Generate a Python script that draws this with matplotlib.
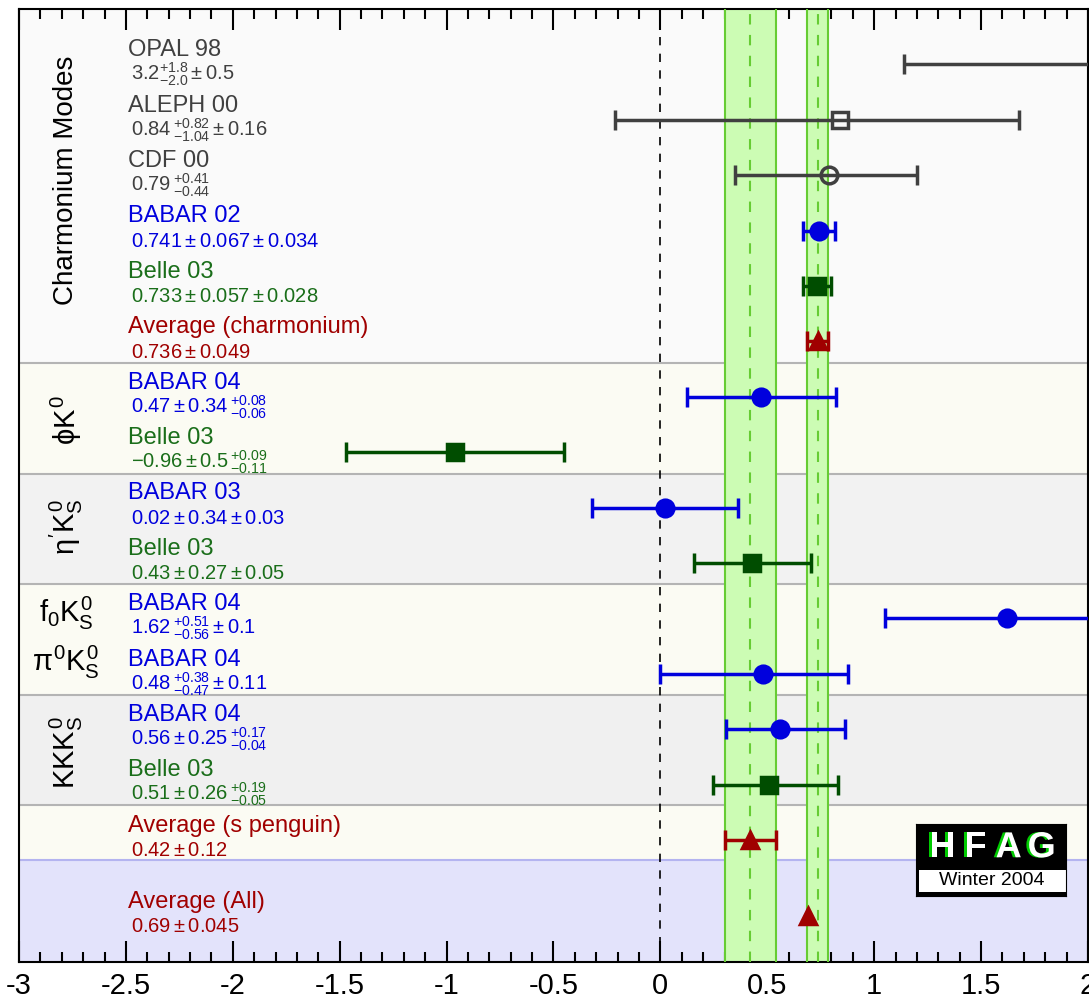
import numpy as np
import matplotlib.pyplot as plt
import matplotlib.patheffects as pe
from matplotlib.ticker import MultipleLocator

plt.rcParams['font.family'] = ['Liberation Sans', 'DejaVu Sans']
plt.rcParams['mathtext.fontset'] = 'custom'
plt.rcParams['mathtext.rm'] = 'Liberation Sans'
plt.rcParams['mathtext.it'] = 'Liberation Sans'
plt.rcParams['mathtext.bf'] = 'Liberation Sans:bold'
plt.rcParams['axes.unicode_minus'] = False

# measurements (S_CP / sin2beta), stat and syst errors
names = ['OPAL 98', 'ALEPH 00', 'CDF 00', 'BABAR 02', 'Belle 03', 'Average (charmonium)',
         'BABAR 04', 'Belle 03', 'BABAR 03', 'Belle 03', 'BABAR 04', 'BABAR 04',
         'BABAR 04', 'Belle 03', 'Average (s penguin)', 'Average (All)']
values = [3.2, 0.84, 0.79, 0.741, 0.733, 0.736, 0.47, -0.96, 0.02, 0.43,
          1.62, 0.48, 0.56, 0.51, 0.42, 0.69]
stat_lo = [2.0, 1.04, 0.44, 0.067, 0.057, 0.049, 0.34, 0.5, 0.34, 0.27, 0.56, 0.47, 0.25, 0.26, 0.12, 0.045]
stat_hi = [1.8, 0.82, 0.41, 0.067, 0.057, 0.049, 0.34, 0.5, 0.34, 0.27, 0.51, 0.38, 0.25, 0.26, 0.12, 0.045]
syst_lo = [0.5, 0.16, 0.0, 0.034, 0.028, 0.0, 0.06, 0.11, 0.03, 0.05, 0.1, 0.11, 0.04, 0.05, 0.0, 0.0]
syst_hi = [0.5, 0.16, 0.0, 0.034, 0.028, 0.0, 0.08, 0.09, 0.03, 0.05, 0.1, 0.11, 0.17, 0.19, 0.0, 0.0]
show_bars = [True] * 15 + [False]
value_labels = [r'$3.2^{+1.8}_{-2.0} \pm 0.5$',
                r'$0.84\,^{+0.82}_{-1.04} \pm 0.16$',
                r'$0.79\,^{+0.41}_{-0.44}$',
                r'$0.741 \pm 0.067 \pm 0.034$',
                r'$0.733 \pm 0.057 \pm 0.028$',
                r'$0.736 \pm 0.049$',
                r'$0.47 \pm 0.34\,^{+0.08}_{-0.06}$',
                r'$-0.96 \pm 0.5\,^{+0.09}_{-0.11}$',
                r'$0.02 \pm 0.34 \pm 0.03$',
                r'$0.43 \pm 0.27 \pm 0.05$',
                r'$1.62\,^{+0.51}_{-0.56} \pm 0.1$',
                r'$0.48\,^{+0.38}_{-0.47} \pm 0.11$',
                r'$0.56 \pm 0.25\,^{+0.17}_{-0.04}$',
                r'$0.51 \pm 0.26\,^{+0.19}_{-0.05}$',
                r'$0.42 \pm 0.12$',
                r'$0.69 \pm 0.045$']
y_pos = [1, 2, 3, 4, 5, 6, 7, 8, 9, 10, 11, 12, 13, 14, 15, 16.37]

exps = ['old', 'old', 'old', 'babar', 'belle', 'avg', 'babar', 'belle', 'babar', 'belle',
        'babar', 'babar', 'babar', 'belle', 'avg', 'avg']
markers = ['^', 's', 'o', 'o', 's', '^', 'o', 's', 'o', 's', 'o', 'o', 'o', 's', '^', '^']
filled = [False, False, False] + [True] * 13

col_pt = {'old': '#404040', 'babar': '#0000dd', 'belle': '#004d00', 'avg': '#a00000'}
col_txt = {'old': '#404040', 'babar': '#0000dd', 'belle': '#1a6e1a', 'avg': '#a00000'}

# group regions (row units) and labels
region_edges = [0, 6.39, 8.39, 10.38, 12.38, 14.37, 15.36, 17.2]
region_cols = ['#fafafa', '#fbfbf3', '#f2f2f2', '#fbfbf3', '#f0f0f0', '#fbfbf3', '#e3e3fb']
group_labels = ['Charmonium Modes', r'$\phi K^0$', r"$\eta' K_S^0$", r'$f_0 K_S^0$',
                r'$\pi^0 K_S^0$', r'$KKK_S^0$']
group_y = [3.09, 7.42, 9.35, 10.9, 11.8, 13.41]
group_rot = [90, 90, 90, 0, 0, 90]
group_size = [20, 21, 21, 21, 21, 21]

# averages shown as bands
band_mean = [0.42, 0.736]
band_err = [0.12, 0.049]

fig = plt.figure(figsize=(10.89, 10.02), dpi=100)
ax = fig.add_axes([0.0175, 0.0399, 0.9815, 0.9511])

for i in range(len(region_cols)):
    ax.axhspan(region_edges[i], region_edges[i + 1], color=region_cols[i], zorder=0, lw=0)
for e in region_edges[1:-2]:
    ax.axhline(e, color='#b4b4b4', lw=1.5, zorder=1)
ax.axhline(region_edges[-2], color='#b4b4f0', lw=1.5, zorder=1)

for m, e in zip(band_mean, band_err):
    ax.axvspan(m - e, m + e, facecolor='#ccfcb4', edgecolor='none', zorder=2)
    ax.axvline(m - e, color='#66cc33', lw=1.5, zorder=3)
    ax.axvline(m + e, color='#66cc33', lw=1.5, zorder=3)
    ax.axvline(m, color='#66cc33', lw=1.5, ls=(0, (5, 5)), zorder=3)

ax.axvline(0, color='black', lw=1.2, ls=(0, (5, 5)), zorder=3)

for i in range(len(names)):
    c = col_pt[exps[i]]
    lo = np.hypot(stat_lo[i], syst_lo[i])
    hi = np.hypot(stat_hi[i], syst_hi[i])
    if show_bars[i]:
        ax.errorbar(values[i], y_pos[i], xerr=[[lo], [hi]], fmt='none', ecolor=c,
                    elinewidth=2.5, capsize=7, capthick=2.5, zorder=4)
    ax.plot(values[i], y_pos[i], marker=markers[i], ms=12, color=c,
            mfc=c if filled[i] else 'none', mew=2.5, zorder=5, clip_on=True)
    ax.text(-2.491, y_pos[i] - 0.15, names[i], color=col_txt[exps[i]], fontsize=17,
            va='baseline', ha='left', zorder=6)
    ax.text(-2.477, y_pos[i] + 0.29, value_labels[i], color=col_txt[exps[i]], fontsize=14.5,
            va='baseline', ha='left', zorder=6)

for lab, y, r, s in zip(group_labels, group_y, group_rot, group_size):
    ax.text(-2.78, y, lab, rotation=r, fontsize=s, ha='center', va='center', zorder=6)

ax.set_xlim(-3, 2)
ax.set_ylim(17.2, 0)
ax.xaxis.set_minor_locator(MultipleLocator(0.1))
ax.set_xticks(np.arange(-3, 2.01, 0.5))
ax.set_xticklabels(['-3', '-2.5', '-2', '-1.5', '-1', '-0.5', '0', '0.5', '1', '1.5', '2'])
ax.tick_params(axis='x', which='both', direction='in', top=True, bottom=True,
               labelsize=21, pad=7, width=1.5)
ax.tick_params(axis='x', which='major', length=15)
ax.tick_params(axis='x', which='minor', length=7)
ax.set_yticks([])
for sp in ax.spines.values():
    sp.set_linewidth(1.5)

# HFAG logo
lg = fig.add_axes([915.7 / 1089, 1 - 896 / 1002, 150 / 1089, 72 / 1002])
lg.set_facecolor('black')
lg.set_xlim(0, 1)
lg.set_ylim(0, 1)
lg.set_xticks([])
lg.set_yticks([])
lg.add_patch(plt.Rectangle((0.02, 0.06), 0.98, 0.30, facecolor='white', edgecolor='none'))
for k, ch in enumerate('HFAG'):
    lg.text(0.18 + k * 0.22, 0.67, ch, color='white', fontsize=26, fontweight='bold',
            ha='center', va='center',
            path_effects=[pe.withSimplePatchShadow(offset=(-2, 0), shadow_rgbFace='#00cc00', alpha=1)])
lg.text(0.51, 0.21, 'Winter 2004', color='black', fontsize=14, ha='center', va='center')

fig.savefig('out.png', dpi=100)
